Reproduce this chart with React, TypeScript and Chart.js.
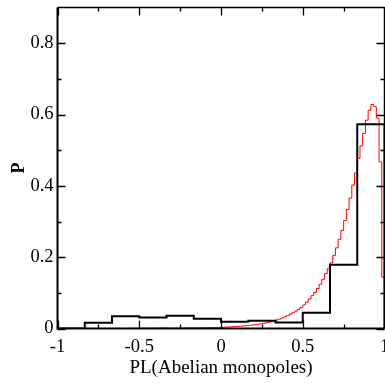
import React, { useEffect, useRef } from 'react';
import { Chart, registerables } from 'chart.js';

Chart.register(...registerables);

// Black histogram (coarse bins, left edges) and bin heights
const blackBinEdges = [-1, -0.8333, -0.6667, -0.5, -0.3333, -0.1667, 0, 0.1667, 0.3333, 0.5, 0.6667, 0.8333];
const blackValues = [0, 0.016, 0.034, 0.031, 0.036, 0.027, 0.019, 0.022, 0.017, 0.044, 0.179, 0.573];

// Red histogram: 120 bins from -1 to 1
const redValues = [
  0, 0, 0, 0, 0, 0, 0, 0, 0, 0,
  0.0001, 0.0001, 0.0001, 0.0001, 0.0002, 0.0002, 0.0002, 0.0002, 0.0003, 0.0003,
  0.0003, 0.0004, 0.0004, 0.0004, 0.0005, 0.0005, 0.0006, 0.0006, 0.0007, 0.0007,
  0.0008, 0.0009, 0.0009, 0.001, 0.0011, 0.0012, 0.0013, 0.0014, 0.0015, 0.0016,
  0.001, 0.0011, 0.0011, 0.0012, 0.0013, 0.0014, 0.0014, 0.0015, 0.0016, 0.0017,
  0.0018, 0.0019, 0.002, 0.0022, 0.0023, 0.0025, 0.0026, 0.0028, 0.003, 0.0032,
  0.0035, 0.0038, 0.0042, 0.0046, 0.005, 0.0055, 0.006, 0.0066, 0.0072, 0.0079,
  0.0087, 0.0096, 0.0106, 0.0117, 0.0129, 0.0142, 0.0156, 0.0172, 0.019, 0.021,
  0.024, 0.0265, 0.0295, 0.0325, 0.036, 0.04, 0.044, 0.0485, 0.0535, 0.059,
  0.066, 0.074, 0.083, 0.092, 0.101, 0.112, 0.124, 0.138, 0.154, 0.168,
  0.184, 0.205, 0.226, 0.25, 0.275, 0.303, 0.334, 0.366, 0.402, 0.436,
  0.477, 0.512, 0.547, 0.584, 0.612, 0.628, 0.622, 0.59, 0.467, 0.144,
];
const xMin = -1;
const xMax = 1;
const yMin = 0;
const yMax = 0.9;

const xMajorTicks = [-1, -0.5, 0, 0.5, 1];
const xTickLabels = ['-1', '-0.5', '0', '0.5', '1'];
const xMinorTicks = [-0.75, -0.25, 0.25, 0.75];
const yMajorTicks = [0, 0.2, 0.4, 0.6, 0.8];
const yTickLabels = ['0', '0.2', '0.4', '0.6', '0.8'];
const yMinorTicks = [0.1, 0.3, 0.5, 0.7];

const xTitle = 'PL(Abelian monopoles)';
const yTitle = 'P';

const serif = "'Liberation Serif', 'DejaVu Serif', serif";

const framePlugin = {
  id: 'frameTicks',
  afterDatasetsDraw(chart: any) {
    const { ctx, chartArea, scales } = chart;
    const { left, right, top, bottom } = chartArea;
    const x = scales.x;
    const y = scales.y;
    ctx.save();
    ctx.strokeStyle = '#000';
    ctx.lineCap = 'butt';
    ctx.lineWidth = 1.3;
    ctx.beginPath();
    const xt = (v: number, len: number) => {
      const px = Math.round(x.getPixelForValue(v)) + 0.5;
      ctx.moveTo(px, bottom);
      ctx.lineTo(px, bottom - len);
      ctx.moveTo(px, top);
      ctx.lineTo(px, top + len);
    };
    const yt = (v: number, len: number) => {
      const py = Math.round(y.getPixelForValue(v)) + 0.5;
      ctx.moveTo(left, py);
      ctx.lineTo(left + len, py);
      ctx.moveTo(right, py);
      ctx.lineTo(right - len, py);
    };
    xMajorTicks.forEach((v) => xt(v, 8));
    xMinorTicks.forEach((v) => xt(v, 4));
    yMajorTicks.forEach((v) => yt(v, 8));
    yMinorTicks.forEach((v) => yt(v, 4));
    ctx.stroke();
    // frame
    ctx.lineWidth = 1.5;
    ctx.beginPath();
    ctx.moveTo(left, top);
    ctx.lineTo(right, top);
    ctx.lineTo(right, bottom);
    ctx.stroke();
    ctx.lineWidth = 2;
    ctx.beginPath();
    ctx.moveTo(left, top);
    ctx.lineTo(left, bottom);
    ctx.lineTo(right, bottom);
    ctx.stroke();
    ctx.restore();
  },
};

export default function App() {
  const ref = useRef<HTMLCanvasElement>(null);

  useEffect(() => {
    if (!ref.current) return;
    const blackData = blackValues.map((v, i) => ({ x: blackBinEdges[i], y: v }));
    blackData.push({ x: xMax, y: 0 });
    const redData = redValues.map((v, i) => ({ x: xMin + ((xMax - xMin) * i) / redValues.length, y: v }));
    redData.push({ x: xMax, y: 0 });

    const chart = new Chart(ref.current, {
      type: 'line',
      data: {
        datasets: [
          {
            data: blackData,
            borderColor: '#000',
            borderWidth: 2,
            stepped: 'before',
            pointRadius: 0,
            fill: false,
          },
          {
            data: redData,
            borderColor: '#ff0000',
            borderWidth: 1,
            stepped: 'before',
            pointRadius: 0,
            fill: false,
          },
        ],
      },
      options: {
        animation: false,
        responsive: false,
        layout: { padding: { top: 7.5, right: 0.5, left: 0, bottom: 0 } },
        plugins: { legend: { display: false }, tooltip: { enabled: false } },
        scales: {
          x: {
            type: 'linear',
            min: xMin,
            max: xMax,
            grid: { display: false, drawTicks: false },
            border: { display: false },
            afterBuildTicks: (s: any) => {
              s.ticks = xMajorTicks.map((v) => ({ value: v }));
            },
            ticks: {
              color: '#000',
              font: { family: serif, size: 18.5 },
              padding: 8,
              maxRotation: 0,
              autoSkip: false,
              callback: (_v: any, i: number) => xTickLabels[i],
            },
            title: {
              display: true,
              text: xTitle,
              color: '#000',
              font: { family: serif, size: 19 },
              padding: { top: 0, bottom: 3.5 },
            },
            afterFit: (s: any) => {
              s.height = 54.5;
              s.paddingLeft = 0;
              s.paddingRight = 0;
            },
          },
          y: {
            type: 'linear',
            min: yMin,
            max: yMax,
            grid: { display: false, drawTicks: false },
            border: { display: false },
            afterBuildTicks: (s: any) => {
              s.ticks = yMajorTicks.map((v) => ({ value: v }));
            },
            ticks: {
              color: '#000',
              font: { family: serif, size: 18.5 },
              padding: 4,
              autoSkip: false,
              callback: (_v: any, i: number) => yTickLabels[i],
            },
            title: {
              display: true,
              text: yTitle,
              color: '#000',
              font: { family: serif, size: 18, weight: 'bold' },
              padding: { top: 9, bottom: 0 },
            },
            afterFit: (s: any) => {
              s.width = 57.5;
              s.paddingTop = 0;
              s.paddingBottom = 0;
            },
          },
        },
      },
      plugins: [framePlugin],
    } as any);
    return () => chart.destroy();
  }, []);

  return (
    <div style={{ position: 'fixed', left: 0, top: 0, width: 385, height: 383, background: '#fff' }}>
      <canvas ref={ref} width={385} height={383} style={{ display: 'block' }} />
    </div>
  );
}
